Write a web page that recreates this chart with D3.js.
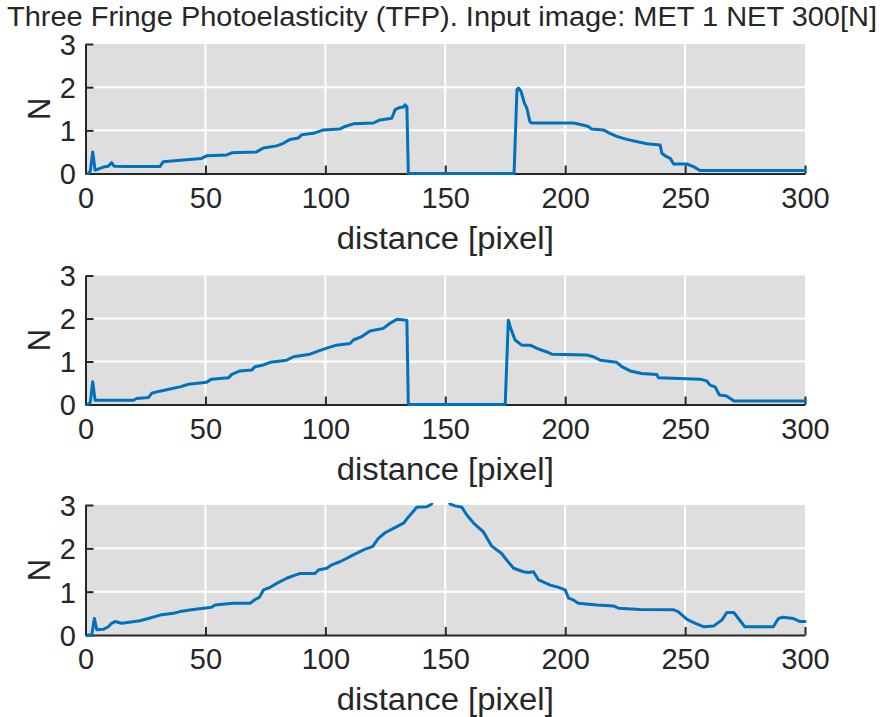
<!DOCTYPE html>
<html><head><meta charset="utf-8">
<script src="https://cdn.jsdelivr.net/npm/d3@7"></script>
<style>
body{margin:0;background:#fff;}
svg{display:block;}
text{font-family:"Liberation Sans",Arial,sans-serif;fill:#262626;}
</style>
</head><body>
<svg id="chart" width="883" height="717"></svg>
<script>
const titleText = "Three Fringe Photoelasticity (TFP). Input image: MET 1 NET 300[N]";
const xLabelText = "distance [pixel]";
const yLabelText = "N";
const xTicks = [0, 50, 100, 150, 200, 250, 300];
const yTicks = [0, 1, 2, 3];

const dist1 = [1, 2, 3, 4, 5.3, 7.4, 9.5, 10.9, 11.9, 17, 31, 32.4, 40.8, 48.4, 50.5, 58.9, 61, 71.3, 74.2, 79.7, 82.5, 85.3, 88.7, 90.2, 95, 99.2, 106, 108.2, 111.7, 120, 122.8, 127.7, 129.1, 131.1, 132.6, 133.2, 134, 134.6, 178.7, 179.9, 180.5, 181.6, 183, 184, 185.3, 186, 203.4, 206.9, 209.7, 211, 215.9, 218.7, 221.5, 225.7, 234, 239.6, 240.3, 241.7, 243.8, 245.2, 250.7, 253.5, 256.2, 300];
const fringe1 = [0, 0.05, 0.5, 0.08, 0.1, 0.15, 0.17, 0.25, 0.17, 0.16, 0.16, 0.27, 0.31, 0.35, 0.41, 0.43, 0.48, 0.5, 0.59, 0.64, 0.7, 0.79, 0.82, 0.9, 0.93, 1.01, 1.03, 1.09, 1.15, 1.17, 1.24, 1.28, 1.48, 1.53, 1.54, 1.59, 1.55, 0, 0, 1.94, 1.98, 1.9, 1.63, 1.52, 1.2, 1.17, 1.17, 1.13, 1.09, 1.03, 1.01, 0.93, 0.86, 0.79, 0.69, 0.66, 0.47, 0.41, 0.35, 0.22, 0.22, 0.16, 0.07, 0.07];

const dist2 = [1, 2, 3, 4, 20, 21.3, 26.2, 27.6, 31, 35.2, 39.4, 42.9, 50.5, 52.6, 59.6, 61, 64.4, 69.3, 70.7, 74.2, 77, 83.9, 86.7, 93.6, 96.4, 100.6, 104.7, 110.3, 111.7, 115.2, 118.6, 124.2, 127, 129.8, 134, 134.6, 175, 176.3, 177.3, 179.1, 181.9, 185.4, 188.9, 193, 194.4, 209, 211.8, 214.6, 221.5, 223.6, 227.1, 231.9, 238.2, 238.9, 256.2, 259, 260.4, 262.5, 264.3, 267.3, 270.4, 300];
const fringe2 = [0, 0.05, 0.53, 0.1, 0.1, 0.14, 0.16, 0.26, 0.31, 0.36, 0.41, 0.47, 0.52, 0.59, 0.62, 0.7, 0.78, 0.8, 0.88, 0.92, 0.98, 1.03, 1.11, 1.17, 1.23, 1.31, 1.38, 1.42, 1.5, 1.58, 1.71, 1.77, 1.89, 1.98, 1.96, 0, 0, 1.96, 1.77, 1.5, 1.38, 1.38, 1.29, 1.21, 1.17, 1.15, 1.11, 1.03, 0.98, 0.88, 0.78, 0.72, 0.7, 0.62, 0.59, 0.55, 0.45, 0.41, 0.22, 0.2, 0.08, 0.08];

const dist3 = [1, 2.6, 3.7, 4.7, 7.4, 9.5, 10.9, 12.3, 15.1, 22.7, 26.2, 31.1, 36.6, 39.4, 45, 52.6, 54, 61.6, 68.6, 70.7, 72.5, 74.2, 77, 79.7, 83.9, 87.4, 89.5, 95.7, 97.1, 100.6, 102.7, 106.1, 111.7, 116.6, 119.7, 122.1, 124.9, 128.4, 132.6, 134.6, 136, 138.1, 142.3, 144.3, 146, 150, 152, 154.1, 156.9, 159, 161.7, 165.9, 169.4, 173.5, 175.6, 178.5, 182.6, 184.7, 186.8, 188.9, 193.8, 197.3, 200, 201.4, 203.4, 205.5, 213.2, 220.1, 222.2, 231.2, 245.2, 247.1, 250.8, 254.3, 257.9, 262, 265.4, 267.4, 270.3, 274.9, 286.8, 288.9, 290.9, 295.2, 298, 300];
const fringe3 = [0, 0, 0.38, 0.12, 0.13, 0.19, 0.27, 0.31, 0.27, 0.33, 0.38, 0.46, 0.5, 0.54, 0.59, 0.64, 0.69, 0.73, 0.73, 0.82, 0.87, 1.04, 1.1, 1.19, 1.31, 1.38, 1.42, 1.42, 1.5, 1.54, 1.62, 1.69, 1.85, 1.98, 2.04, 2.23, 2.36, 2.46, 2.58, 2.72, 2.81, 2.95, 2.96, 3.02, 3.3, 3.3, 3.02, 2.98, 2.95, 2.77, 2.59, 2.38, 2.05, 1.88, 1.73, 1.54, 1.46, 1.44, 1.46, 1.27, 1.15, 1.1, 1.04, 0.85, 0.81, 0.73, 0.69, 0.67, 0.62, 0.59, 0.58, 0.54, 0.36, 0.27, 0.19, 0.21, 0.35, 0.52, 0.52, 0.19, 0.19, 0.38, 0.41, 0.38, 0.31, 0.31];

const panels = [
  {xs: dist1, ys: fringe1},
  {xs: dist2, ys: fringe2},
  {xs: dist3, ys: fringe3}
];

const svg = d3.select("#chart");
const left = 85.5, right = 805;
const tops = [44, 275.5, 505];
const bottoms = [173.5, 404.5, 635];
const axisColor = "#262626";
const lineColor = "#0072BD";
const bgColor = "#dedede";
const fmt = d3.format("d");

svg.append("text")
  .attr("x", 442).attr("y", 26)
  .attr("text-anchor", "middle")
  .attr("font-size", 27)
  .attr("textLength", 870).attr("lengthAdjust", "spacingAndGlyphs")
  .text(titleText);

panels.forEach((p, i) => {
  const x = d3.scaleLinear().domain([0, 300]).range([left, right]);
  const y = d3.scaleLinear().domain([0, 3]).range([bottoms[i], tops[i]]);
  const g = svg.append("g");

  g.append("rect")
    .attr("x", x(0)).attr("y", y(3))
    .attr("width", x(300) - x(0)).attr("height", y(0) - y(3))
    .attr("fill", bgColor);

  // grid
  g.selectAll(".vg").data(xTicks.filter(t => t > 0 && t < 300)).enter().append("line")
    .attr("x1", d => x(d)).attr("x2", d => x(d))
    .attr("y1", y(0)).attr("y2", y(3))
    .attr("stroke", "#fff").attr("stroke-width", 2);
  g.selectAll(".hg").data(yTicks.filter(t => t > 0 && t < 3)).enter().append("line")
    .attr("x1", x(0)).attr("x2", x(300))
    .attr("y1", d => y(d)).attr("y2", d => y(d))
    .attr("stroke", "#fff").attr("stroke-width", 2);

  // x axis
  const xAxis = d3.axisBottom(x).tickValues(xTicks).tickFormat(fmt).tickSizeInner(-8).tickSizeOuter(0).tickPadding(0);
  const gx = g.append("g").attr("transform", `translate(0,${y(0)})`).call(xAxis);
  gx.select(".domain").attr("stroke", axisColor).attr("stroke-width", 2);
  gx.selectAll(".tick line").attr("stroke", axisColor).attr("stroke-width", 2);
  gx.selectAll(".tick text").attr("y", 34).attr("dy", null)
    .attr("font-size", 29).attr("fill", axisColor)
    .style("font-family", '"Liberation Sans",Arial,sans-serif');

  // y axis
  const yAxis = d3.axisLeft(y).tickValues(yTicks).tickFormat(fmt).tickSizeInner(-8).tickSizeOuter(0).tickPadding(0);
  const gy = g.append("g").attr("transform", `translate(${x(0)},0)`).call(yAxis);
  gy.select(".domain").attr("stroke", axisColor).attr("stroke-width", 2);
  gy.selectAll(".tick line").attr("stroke", axisColor).attr("stroke-width", 2);
  gy.selectAll(".tick text").attr("x", -9.5).attr("dy", "0.36em")
    .attr("font-size", 29).attr("fill", axisColor)
    .style("font-family", '"Liberation Sans",Arial,sans-serif');

  // labels
  g.append("text")
    .attr("x", (x(0) + x(300)) / 2).attr("y", y(0) + 75)
    .attr("text-anchor", "middle").attr("font-size", 31)
    .attr("textLength", 217).attr("lengthAdjust", "spacingAndGlyphs")
    .text(xLabelText);
  g.append("text")
    .attr("transform", `translate(50,${(y(0) + y(3)) / 2}) rotate(-90)`)
    .attr("text-anchor", "middle").attr("font-size", 31)
    .text(yLabelText);

  // clip + data line
  const clipId = "clip" + i;
  svg.append("clipPath").attr("id", clipId).append("rect")
    .attr("x", x(0) - 2).attr("y", y(3) - 2)
    .attr("width", x(300) - x(0) + 4).attr("height", y(0) - y(3) + 5);
  const pts = p.xs.map((d, k) => [d, p.ys[k]]);
  g.append("path")
    .datum(pts)
    .attr("clip-path", `url(#${clipId})`)
    .attr("fill", "none").attr("stroke", lineColor)
    .attr("stroke-width", 3).attr("stroke-linejoin", "round").attr("stroke-linecap", "round")
    .attr("d", d3.line().x(d => x(d[0])).y(d => y(d[1])));
});
</script>
</body></html>
